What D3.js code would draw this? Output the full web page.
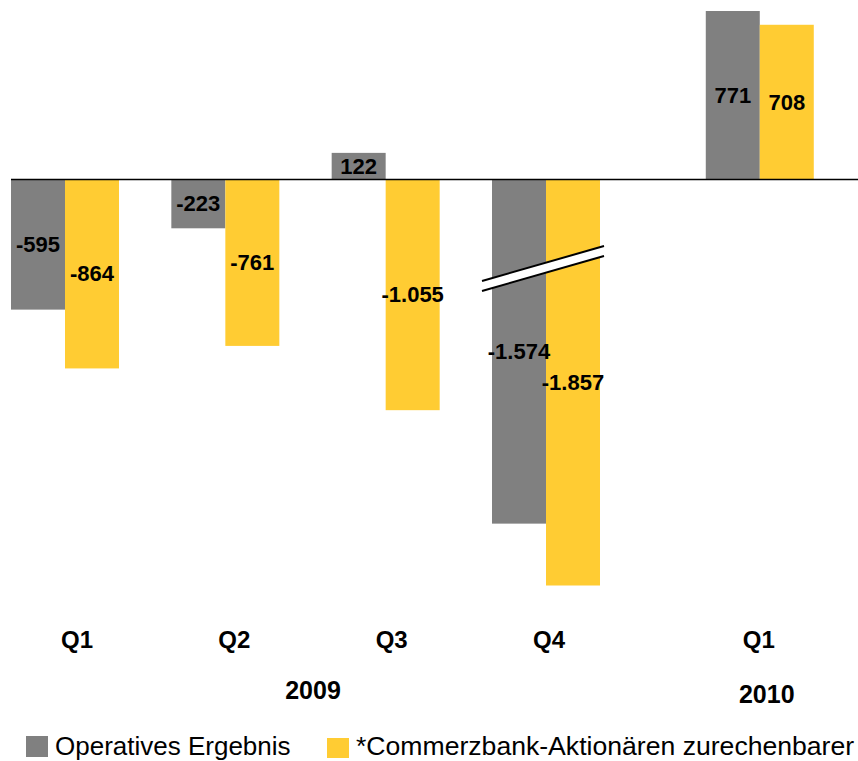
<!DOCTYPE html>
<html>
<head>
<meta charset="utf-8">
<script src="https://cdn.jsdelivr.net/npm/d3@7"></script>
<style>
  html, body { margin: 0; padding: 0; background: #fff; }
  svg { display: block; }
</style>
</head>
<body>
<svg id="chart" width="858" height="761"></svg>
<script>
// ---- data ----
const quarters = ["Q1", "Q2", "Q3", "Q4", "Q1"];
const years = ["2009", "2009", "2009", "2009", "2010"];
const yearLabels = ["2009", "2010"];
const operativesErgebnis = [-595, -223, 122, -1574, 771];
const aktionaereErgebnis = [-864, -761, -1055, -1857, 708];
const valueLabelsOp = ["-595", "-223", "122", "-1.574", "771"];
const valueLabelsAk = ["-864", "-761", "-1.055", "-1.857", "708"];
const seriesNames = ["Operatives Ergebnis", "*Commerzbank-Aktionären zurechenbarer"];
const seriesColors = ["#808080", "#FFCC33"];

// ---- layout ----
const svg = d3.select("#chart");
const yearGap = 1 / 3; // extra slot spacing between years
const slot = quarters.map((q, i) => i + (years[i] !== years[0] ? yearGap : 0));

const xBar = d3.scaleLinear().domain([0, 3]).range([65, 546]);
const xLab = d3.scaleLinear().domain([0, 3]).range([77, 549]);
const y = d3.scaleLinear().domain([-1857, 771]).range([585.5, 11]);
const barW = 54;
const FONT = "'Liberation Sans', Arial, sans-serif";

// bars
const series = [operativesErgebnis, aktionaereErgebnis];
const labels = [valueLabelsOp, valueLabelsAk];
series.forEach((vals, s) => {
  const g = svg.append("g");
  g.selectAll("rect").data(vals).enter().append("rect")
    .attr("x", (d, i) => xBar(slot[i]) + (s === 0 ? -barW : 0))
    .attr("width", barW)
    .attr("y", d => Math.min(y(d), y(0)))
    .attr("height", d => Math.abs(y(d) - y(0)))
    .attr("fill", seriesColors[s]);
});

// baseline
svg.append("line")
  .attr("x1", 11).attr("x2", 858)
  .attr("y1", y(0)).attr("y2", y(0))
  .attr("stroke", "#000").attr("stroke-width", 1.5);

// axis break on Q4
const bx1 = xBar(slot[3]) - 64, bx2 = xBar(slot[3]) + 58;
const bk = svg.append("g");
bk.append("polygon")
  .attr("points", `${bx1},${281} ${bx2},${246} ${bx2},${256} ${bx1},${291}`)
  .attr("fill", "#fff");
bk.append("line").attr("x1", bx1).attr("y1", 281).attr("x2", bx2).attr("y2", 246)
  .attr("stroke", "#000").attr("stroke-width", 2);
bk.append("line").attr("x1", bx1).attr("y1", 291).attr("x2", bx2).attr("y2", 256)
  .attr("stroke", "#000").attr("stroke-width", 2);

// value labels
series.forEach((vals, s) => {
  svg.append("g").selectAll("text").data(vals).enter().append("text")
    .attr("x", (d, i) => xBar(slot[i]) + (s === 0 ? -barW / 2 : barW / 2))
    .attr("y", d => (y(d) + y(0)) / 2)
    .attr("text-anchor", "middle")
    .attr("dominant-baseline", "central")
    .attr("font-family", FONT)
    .attr("font-weight", "bold")
    .attr("font-size", 22)
    .attr("fill", "#000")
    .text((d, i) => labels[s][i]);
});

// quarter labels
svg.append("g").selectAll("text").data(quarters).enter().append("text")
  .attr("x", (d, i) => xLab(slot[i]))
  .attr("y", 648)
  .attr("text-anchor", "middle")
  .attr("font-family", FONT)
  .attr("font-weight", "bold")
  .attr("font-size", 24)
  .text(d => d);

// year labels
yearLabels.forEach(yr => {
  const idx = years.map((v, i) => v === yr ? slot[i] : null).filter(v => v !== null);
  const cx = (xLab(d3.min(idx)) + xLab(d3.max(idx))) / 2;
  svg.append("text")
    .attr("x", cx + (idx.length === 1 ? 8 : 0))
    .attr("y", yr === "2009" ? 699 : 703)
    .attr("text-anchor", "middle")
    .attr("font-family", FONT)
    .attr("font-weight", "bold")
    .attr("font-size", 25)
    .text(yr);
});

// legend
const legX = [26, 327];
const legSq = [[736, 22, 21], [738, 22, 20]];
const legFont = [26, 26.6];
seriesNames.forEach((name, s) => {
  svg.append("rect")
    .attr("x", legX[s]).attr("y", legSq[s][0])
    .attr("width", legSq[s][1]).attr("height", legSq[s][2])
    .attr("fill", seriesColors[s]);
  svg.append("text")
    .attr("x", legX[s] + 29)
    .attr("y", 755)
    .attr("font-family", FONT)
    .attr("font-size", legFont[s])
    .attr("fill", "#000")
    .text(name);
});
</script>
</body>
</html>
